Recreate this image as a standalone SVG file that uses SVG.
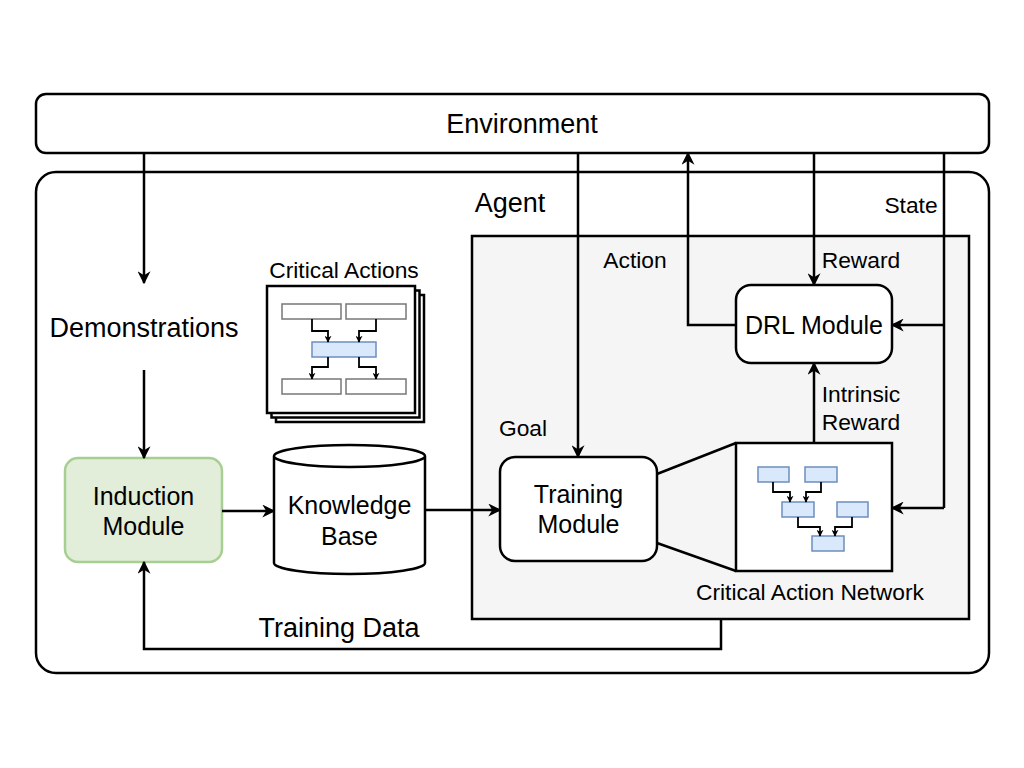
<svg xmlns="http://www.w3.org/2000/svg" width="1024" height="768" viewBox="0 0 1024 768">
<defs>
<marker id="arr" viewBox="0 0 10 10" refX="9" refY="5" markerWidth="7" markerHeight="7" markerUnits="userSpaceOnUse" orient="auto">
<path d="M0,0 L10,5 L0,10 L3,5 Z" fill="#000"/>
</marker>
<marker id="arrB" viewBox="0 0 10 10" refX="9" refY="5" markerWidth="13" markerHeight="13" markerUnits="userSpaceOnUse" orient="auto">
<path d="M0,0 L10,5 L0,10 L3,5 Z" fill="#000"/>
</marker>
<style>
text{font-family:"Liberation Sans",Arial,sans-serif;fill:#000;text-anchor:middle}
.big{font-size:27px}
.mod{font-size:25px}
.lbl{font-size:22.8px}
.box{fill:#fff;stroke:#000;stroke-width:2.5}
.edge{fill:none;stroke:#000;stroke-width:2.5;marker-end:url(#arrB)}
.line{fill:none;stroke:#000;stroke-width:2.5}
.mini{fill:none;stroke:#000;stroke-width:1.8;marker-end:url(#arr)}
.gbox{fill:#fff;stroke:#777;stroke-width:1.5}
.bbox{fill:#dae8fc;stroke:#6c8ebf;stroke-width:1.5}
</style>
</defs>
<rect width="1024" height="768" fill="#fff"/>
<g id="agent">
<rect class="box" x="36" y="172" width="953" height="501" rx="20"/>
<text class="big" x="510" y="212">Agent</text>
</g>
<g id="environment">
<rect class="box" x="36" y="94" width="953" height="59" rx="10"/>
<text class="big" x="522" y="133">Environment</text>
</g>
<g id="panel">
<rect x="472" y="236" width="497" height="383" fill="#f5f5f5" stroke="#000" stroke-width="2.5"/>
</g>
<g id="demonstrations">
<text class="big" x="144" y="337">Demonstrations</text>
</g>
<g id="induction">
<rect x="65" y="458" width="157" height="104" rx="13" fill="#e2edda" stroke="#a8cf92" stroke-width="2.5"/>
<text class="mod" x="143.5" y="505">Induction</text>
<text class="mod" x="143.5" y="535">Module</text>
</g>
<g id="knowledge">
<path class="box" d="M274,456 L274,563 A75.5,11 0 0 0 425,563 L425,456 A75.5,11 0 0 0 274,456 A75.5,11 0 0 0 425,456"/>
<text class="mod" x="349.5" y="514">Knowledge</text>
<text class="mod" x="349.5" y="545">Base</text>
</g>
<g id="critical-actions">
<rect class="box" x="276" y="295" width="148" height="127"/>
<rect class="box" x="271.5" y="290.5" width="148" height="127"/>
<rect class="box" x="267" y="286" width="148" height="127"/>
<rect class="gbox" x="282" y="304" width="59" height="15"/>
<rect class="gbox" x="346" y="304" width="60" height="15"/>
<rect class="bbox" x="312" y="342" width="64" height="15"/>
<rect class="gbox" x="282" y="379" width="59" height="15"/>
<rect class="gbox" x="346" y="379" width="60" height="15"/>
<path class="mini" d="M312,319 V331 H328 V342"/>
<path class="mini" d="M376,319 V331 H359 V342"/>
<path class="mini" d="M328,357 V367 H312 V379"/>
<path class="mini" d="M359,357 V367 H376 V379"/>
<text class="lbl" x="344" y="278">Critical Actions</text>
</g>
<g id="training">
<rect class="box" x="500" y="457" width="157" height="104" rx="15"/>
<text class="mod" x="578.5" y="503">Training</text>
<text class="mod" x="578.5" y="533">Module</text>
</g>
<g id="drl">
<rect class="box" x="736" y="285" width="156" height="78" rx="15"/>
<text class="mod" x="814" y="334">DRL Module</text>
</g>
<g id="can">
<path class="line" d="M657,474 L736,443 M657,543 L736,571"/>
<rect class="box" x="736" y="443" width="156" height="128"/>
<rect class="bbox" x="758" y="467" width="31" height="15"/>
<rect class="bbox" x="805" y="467" width="32" height="15"/>
<rect class="bbox" x="782" y="502" width="32" height="15"/>
<rect class="bbox" x="837" y="502" width="31" height="15"/>
<rect class="bbox" x="812" y="536" width="32" height="15"/>
<path class="mini" d="M773,482 V492 H790 V502"/>
<path class="mini" d="M821,482 V492 H806 V502"/>
<path class="mini" d="M798,517 V527 H820 V536"/>
<path class="mini" d="M852,517 V527 H835 V536"/>
<text class="lbl" x="810" y="600">Critical Action Network</text>
</g>
<g id="connectors">
<path class="edge" d="M144,153 V283"/>
<path class="edge" d="M144,370 V458"/>
<path class="edge" d="M222,511 H274"/>
<path class="edge" d="M425,510 H500"/>
<path class="edge" d="M578,153 V457"/>
<path class="edge" d="M814,153 V285"/>
<path class="line" d="M944,153 V508"/>
<path class="edge" d="M944,325 H892"/>
<path class="edge" d="M944,508 H892"/>
<path class="edge" d="M736,325 H688 V153"/>
<path class="edge" d="M814,443 V363"/>
<path class="edge" d="M721,619 V649 H144 V562"/>
<text class="lbl" x="635" y="268">Action</text>
<text class="lbl" x="861" y="268">Reward</text>
<text class="lbl" x="911" y="213">State</text>
<text class="lbl" x="523" y="436">Goal</text>
<text class="lbl" x="861" y="402">Intrinsic</text>
<text class="lbl" x="861" y="430">Reward</text>
<text class="big" x="339" y="637">Training Data</text>
</g>
</svg>
